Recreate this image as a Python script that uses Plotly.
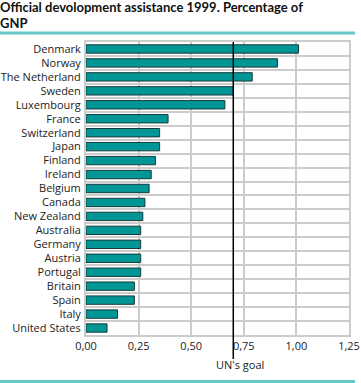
import plotly.graph_objects as go

countries = ["Denmark", "Norway", "The Netherland", "Sweden", "Luxembourg", "France",
             "Switzerland", "Japan", "Finland", "Ireland", "Belgium", "Canada",
             "New Zealand", "Australia", "Germany", "Austria", "Portugal", "Britain",
             "Spain", "Italy", "United States"]
values = [1.01, 0.91, 0.79, 0.70, 0.66, 0.39, 0.35, 0.35, 0.33, 0.31, 0.30, 0.28,
          0.27, 0.26, 0.26, 0.26, 0.26, 0.23, 0.23, 0.15, 0.10]
x_ticks = [0, 0.25, 0.5, 0.75, 1.0, 1.25]
x_ticktext = ["0,00", "0,25", "0,50", "0,75", "1,00", "1,25"]
un_goal = 0.7
title_lines = ["Official devolopment assistance 1999. Percentage of", "GNP"]
goal_label = "UN's goal"

W, H = 361, 383
ml, mr, mt, mb = 86, 12, 42, 48
pw, ph = W - ml - mr, H - mt - mb

def px_x(p):
    return (p - ml) / pw

def px_y(p):
    return (H - mb - p) / ph

fig = go.Figure(go.Bar(
    x=values, y=countries, orientation="h",
    marker=dict(color="#009696", line=dict(color="#1a3a3a", width=1)),
    width=0.6, hoverinfo="skip",
))

grid = "#cccccc"
fig.update_layout(
    width=W, height=H,
    margin=dict(l=ml, r=mr, t=mt, b=mb, autoexpand=False),
    plot_bgcolor="white", paper_bgcolor="white",
    font=dict(family="Open Sans", size=11, color="#222222"),
    showlegend=False,
    xaxis=dict(range=[0, 1.25], tickvals=x_ticks, ticktext=x_ticktext,
               showgrid=True, gridcolor=grid, gridwidth=2, zeroline=False,
               showline=True, linecolor=grid, linewidth=2, mirror=True,
               ticks="", automargin=False, ticklabeloverflow="allow",
               ticklabelstandoff=0),
    yaxis=dict(type="category", autorange="reversed", tickson="boundaries",
               showgrid=True, gridcolor=grid, gridwidth=2,
               showline=True, linecolor=grid, linewidth=2, mirror=True,
               ticks="", ticklabelstandoff=1, automargin=False),
    bargap=0.4,
)

for i, line in enumerate(title_lines):
    fig.add_annotation(text="<b>" + line + "</b>", xref="paper", yref="paper",
                       x=px_x(-2), y=px_y(-3 + 16 * i), xanchor="left", yanchor="top",
                       align="left", showarrow=False,
                       font=dict(family="Lato", size=13, color="#111111"))

fig.add_shape(type="line", xref="paper", yref="paper",
              x0=px_x(0), x1=px_x(355), y0=px_y(33), y1=px_y(33),
              line=dict(color="#66c9c9", width=3))
fig.add_shape(type="line", xref="paper", yref="paper",
              x0=px_x(0), x1=px_x(355), y0=px_y(381.5), y1=px_y(381.5),
              line=dict(color="#66c9c9", width=3))

fig.add_shape(type="line", xref="x", yref="paper",
              x0=un_goal, x1=un_goal, y0=px_y(359), y1=1,
              line=dict(color="black", width=1.5))
fig.add_annotation(text=goal_label, xref="x", yref="paper", x=un_goal, y=px_y(355),
                   xanchor="left", yanchor="top", xshift=-19, showarrow=False,
                   font=dict(family="Open Sans", size=11, color="#222222"))

fig.write_html("out.html", config={"displayModeBar": False},
               post_script="document.body.style.margin='0';document.body.style.overflow='hidden';")
